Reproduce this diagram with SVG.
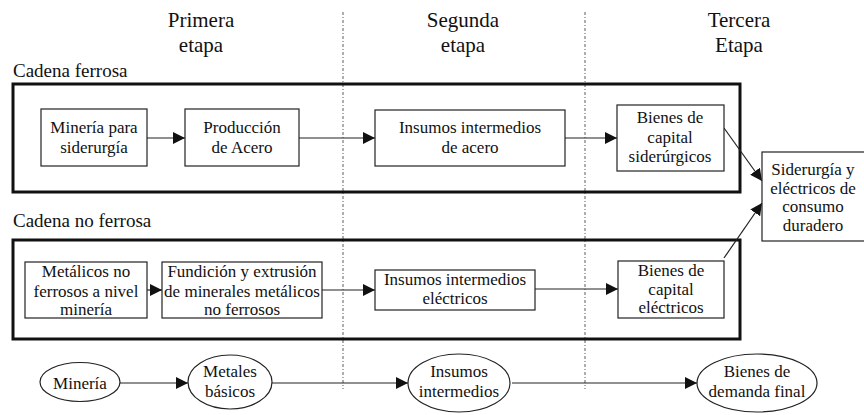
<svg xmlns="http://www.w3.org/2000/svg" width="864" height="415" viewBox="0 0 864 415">
<defs>
<style>
text{font-family:'Liberation Serif',Tinos,'Times New Roman',Times,'Noto Serif','DejaVu Serif',FreeSerif,serif;fill:#111;text-anchor:middle}
.h{font-size:21px}
.c{font-size:19px;text-anchor:start}
.t{font-size:17px}
.n{fill:#fff;stroke:#222;stroke-width:1.2}
.g{fill:none;stroke:#111;stroke-width:3}
.a{fill:none;stroke:#222;stroke-width:1.2;marker-end:url(#ah)}
.d{stroke:#777;stroke-width:1.2;stroke-dasharray:3 2 1 2}
</style>
<marker id="ah" viewBox="0 0 12 12" refX="12" refY="6" markerWidth="12" markerHeight="12" markerUnits="userSpaceOnUse" orient="auto">
<path d="M0,0 L12,6 L0,12 Z" fill="#111"/>
</marker>
</defs>
<rect width="864" height="415" fill="#fff"/>
<g id="dividers">
<line class="d" x1="343" y1="12" x2="343" y2="389"/>
<line class="d" x1="585" y1="12" x2="585" y2="389"/>
</g>
<g id="headings">
<text class="h" x="201" y="27">Primera</text>
<text class="h" x="201" y="52">etapa</text>
<text class="h" x="463" y="27">Segunda</text>
<text class="h" x="463" y="52">etapa</text>
<text class="h" x="739" y="27">Tercera</text>
<text class="h" x="739" y="52">Etapa</text>
</g>
<g id="group-ferrosa">
<text class="c" x="13" y="77">Cadena ferrosa</text>
<rect class="g" x="13" y="84" width="727" height="108"/>
</g>
<g id="group-noferrosa">
<text class="c" x="13" y="227">Cadena no ferrosa</text>
<rect class="g" x="13" y="240" width="727" height="99"/>
</g>
<g id="connectors">
<line class="a" x1="147" y1="138" x2="185" y2="138"/>
<line class="a" x1="299" y1="138" x2="375" y2="138"/>
<line class="a" x1="565" y1="138" x2="617" y2="138"/>
<line class="a" x1="724" y1="128" x2="762" y2="181"/>
<line class="a" x1="147" y1="290" x2="162" y2="290"/>
<line class="a" x1="322" y1="290" x2="375" y2="290"/>
<line class="a" x1="535" y1="289" x2="618" y2="289"/>
<line class="a" x1="724" y1="258" x2="762" y2="203"/>
<line class="a" x1="120" y1="383" x2="188" y2="383"/>
<line class="a" x1="272" y1="383" x2="408" y2="383"/>
<line class="a" x1="512" y1="383" x2="697" y2="383"/>
</g>
<g id="n-mineria-sid">
<rect class="n" x="41" y="109" width="106" height="57"/>
<text class="t" x="94" y="133">Minería para</text>
<text class="t" x="94" y="153">siderurgía</text>
</g>
<g id="n-produccion">
<rect class="n" x="185" y="109" width="114" height="57"/>
<text class="t" x="242" y="133">Producción</text>
<text class="t" x="242" y="153">de Acero</text>
</g>
<g id="n-insumos-acero">
<rect class="n" x="375" y="110" width="190" height="56"/>
<text class="t" x="470" y="133">Insumos intermedios</text>
<text class="t" x="470" y="153">de acero</text>
</g>
<g id="n-bienes-sid">
<rect class="n" x="617" y="105" width="107" height="66"/>
<text class="t" x="670" y="123">Bienes de</text>
<text class="t" x="670" y="143">capital</text>
<text class="t" x="670" y="162">siderúrgicos</text>
</g>
<g id="n-consumo">
<rect class="n" x="762" y="152" width="106" height="89"/>
<text class="t" x="813" y="175">Siderurgía y</text>
<text class="t" x="813" y="194">eléctricos de</text>
<text class="t" x="813" y="212">consumo</text>
<text class="t" x="813" y="231">duradero</text>
</g>
<g id="n-metalicos">
<rect class="n" x="25" y="262" width="122" height="56"/>
<text class="t" x="86" y="277">Metálicos no</text>
<text class="t" x="86" y="297">ferrosos a nivel</text>
<text class="t" x="86" y="315">minería</text>
</g>
<g id="n-fundicion">
<rect class="n" x="162" y="262" width="160" height="56"/>
<text class="t" x="242" y="277">Fundición y extrusión</text>
<text class="t" x="242" y="297">de minerales metálicos</text>
<text class="t" x="242" y="315">no ferrosos</text>
</g>
<g id="n-insumos-elec">
<rect class="n" x="375" y="270" width="160" height="40"/>
<text class="t" x="455" y="285">Insumos intermedios</text>
<text class="t" x="455" y="304">eléctricos</text>
</g>
<g id="n-bienes-elec">
<rect class="n" x="618" y="261" width="106" height="57"/>
<text class="t" x="671" y="276">Bienes de</text>
<text class="t" x="671" y="295">capital</text>
<text class="t" x="671" y="313">eléctricos</text>
</g>
<g id="e-mineria">
<ellipse class="n" cx="80" cy="382" rx="40" ry="19.5"/>
<text class="t" x="80" y="389">Minería</text>
</g>
<g id="e-metales">
<ellipse class="n" cx="230" cy="382" rx="42" ry="27"/>
<text class="t" x="230" y="377">Metales</text>
<text class="t" x="230" y="397">básicos</text>
</g>
<g id="e-insumos">
<ellipse class="n" cx="459" cy="383" rx="51" ry="29"/>
<text class="t" x="459" y="377">Insumos</text>
<text class="t" x="459" y="397">intermedios</text>
</g>
<g id="e-bienes">
<ellipse class="n" cx="757" cy="383" rx="60" ry="29"/>
<text class="t" x="757" y="377">Bienes de</text>
<text class="t" x="757" y="397">demanda final</text>
</g>
</svg>
